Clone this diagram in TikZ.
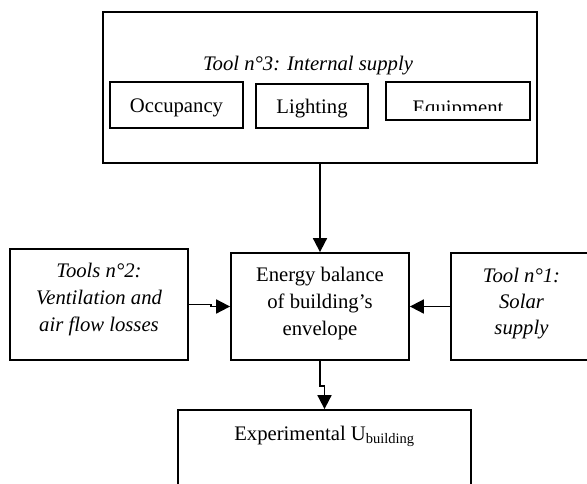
\documentclass[tikz,border=0pt]{standalone}
\usepackage{fontspec}
\setmainfont{Liberation Serif}
\usetikzlibrary{arrows.meta}
\begin{document}
\begin{tikzpicture}[x=1pt,y=-1pt,
  box/.style={draw,line width=1.8pt,inner sep=0pt,rectangle},
  txt/.style={inner sep=0pt,font=\fontsize{20.7}{27}\selectfont},
  ttxt/.style={txt,align=center},
  conn/.style={line width=1.8pt,-{Triangle[length=14pt,width=14pt]}}]
\useasboundingbox (0,0) rectangle (587,483);
% top box with internal supply
\node[box,minimum width=434pt,minimum height=151pt] (top) at (320,87.5) {};
\node[txt,anchor=base,font=\fontsize{20.7}{27}\selectfont\itshape] (title) at (308,70) {Tool n°3: Internal supply};
\node[box,minimum width=133pt,minimum height=46pt] (occ) at (176.5,105) {};
\node[txt,anchor=base] (occt) at (176.5,112) {Occupancy};
\node[box,minimum width=112pt,minimum height=44pt] (light) at (312,106) {};
\node[txt,anchor=base] (lightt) at (312,113) {Lighting};
\node[box,minimum width=144pt,minimum height=38pt] (equip) at (458,101) {};
\begin{scope}
  \clip (386,82) rectangle (530,110.5);
  \node[txt,anchor=base] (equipt) at (458,114) {Equipment};
\end{scope}
% middle row
\node[box,minimum width=178pt,minimum height=111pt] (left) at (99,304.5) {};
\node[ttxt,font=\fontsize{20.7}{27}\selectfont\itshape] (leftt) at (99,300) {Tools n°2:\\Ventilation and\\air flow losses};
\node[box,minimum width=178pt,minimum height=107pt] (energy) at (320,306.5) {};
\node[ttxt] (energyt) at (320,304) {Energy balance\\of building’s\\envelope};
\node[box,minimum width=141pt,minimum height=107pt] (right) at (521.5,306.5) {};
\node[ttxt,font=\fontsize{20.7}{26}\selectfont\itshape] (rightt) at (521.5,304) {Tool n°1:\\Solar\\supply};
% bottom box
\node[box,minimum width=293pt,minimum height=100pt] (bottom) at (324.5,460) {};
\node[txt,anchor=base] (bottomt) at (324.5,440) {Experimental U\textsubscript{building}};
% connectors
\draw[conn] (top.south) -- (energy.north);
\draw[conn] (left.east) -- ++(22,0) |- (energy.west);
\draw[conn] (right.west) -- (energy.east);
\draw[conn] (energy.south) -- ++(0,25) -| (bottom.north);
\end{tikzpicture}
\end{document}
